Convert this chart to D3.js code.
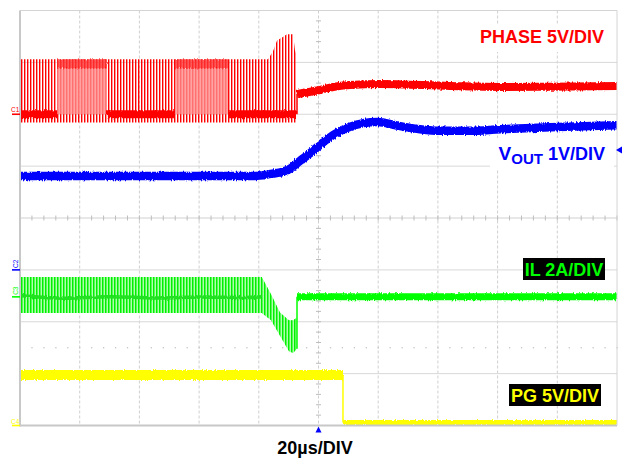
<!DOCTYPE html>
<html>
<head>
<meta charset="utf-8">
<script src="https://cdn.jsdelivr.net/npm/d3@7"></script>
<style>
  html, body { margin: 0; padding: 0; background: #fff; }
  svg { display: block; font-family: "Liberation Sans", Arial, sans-serif; }
</style>
</head>
<body>
<svg id="scope" width="622" height="459"></svg>
<script>
// ---- Scope settings ----
const timeGrid = [-100, -80, -60, -40, -20, 0, 20, 40, 60, 80, 100];   // µs, 20 µs/div
const divGrid = [-4, -3, -2, -1, 0, 1, 2, 3, 4];                        // vertical divisions
const timeBaseLabel = "20µs/DIV";

// ---- Channel 1: PHASE, 5 V/div ----
const phaseTop = [[-100, 5.3], [-16.9, 5.3], [-15.2, 6.1], [-13.9, 7.1], [-12.2, 7.4], [-10.6, 7.7], [-8.5, 7.7], [-7.9, 6.2], [-7.2, 5.6]];
const phaseUndershoot = -0.8;
const phaseDense = [[-87.6, -70.9], [-48.1, -30.3]];
const phaseDenseTop = [5.3, 4.4];
const phaseBase = [[-100, -87.6], [-70.9, -48.1], [-30.3, -7.2]];
const phaseAfter = [[-7.2, 1.95], [0.5, 2.34], [4.9, 2.63], [10.6, 2.82], [20.6, 2.92], [44.1, 2.72], [60.8, 2.63], [77.6, 2.66], [100, 2.72]];

// ---- Channel 2: VOUT, 1 V/div ----
const voutTrace = [[-100, 1.81], [-60, 1.81], [-21.3, 1.81], [-16, 1.85], [-12, 1.89], [-9.5, 1.95], [-6.2, 2.1], [-2.8, 2.25], [0.5, 2.41], [4.9, 2.6], [10.6, 2.76], [19.6, 2.85], [27.3, 2.77], [34, 2.71], [40.7, 2.68], [50.8, 2.68], [60.8, 2.71], [77.6, 2.75], [100, 2.79]];

// ---- Channel 3: IL, 2 A/div ----
// [time, ripple peak, ripple valley]
const ilRipple = [[-100, 0.77, -0.62], [-19, 0.77, -0.62], [-15.9, 0.1, -0.9], [-12.9, -0.6, -1.5], [-9.9, -0.9, -2.1], [-8.5, -0.9, -2.16], [-7.2, -0.8, -2.0]];
const ilCenter = [[-100, 0.05], [-85, -0.1], [-70, 0.05], [-55, -0.08], [-40, 0.03], [-25, -0.05], [-19, 0.0]];
const ilAfter = [[-7.2, 0], [100, 0]];

// ---- Channel 4: PG, 5 V/div ----
const pgHigh = [[-100, 4.87], [8.2, 4.87]];
const pgEdge = [[8.2, 4.87], [8.2, 0.3]];
const pgLow = [[8.2, 0.3], [100, 0.3]];

// channel offsets (div) and sensitivities (units/div)
const channels = [
  { id: "C1", offset: 2.0, perDiv: 5, color: "#ff0000" },
  { id: "C2", offset: -1.0, perDiv: 1, color: "#0000ff" },
  { id: "C3", offset: -1.52, perDiv: 2, color: "#00ff00" },
  { id: "C4", offset: -4.0, perDiv: 5, color: "#ffff00" }
];

const W = 622, H = 459;
const plot = { left: 20, right: 617, top: 10.5, bottom: 425.5 };

const svg = d3.select("#scope");
const x = d3.scaleLinear().domain([-100, 100]).range([plot.left, plot.right]);
const y = d3.scaleLinear().domain([-4, 4]).range([plot.bottom, plot.top]);
const chY = c => v => y(c.offset + v / c.perDiv);
const [c1, c2, c3, c4] = channels;
const y1 = chY(c1), y2 = chY(c2), y3 = chY(c3), y4 = chY(c4);

const defs = svg.append("defs");
// trace noise
const fz = defs.append("filter").attr("id", "fuzz")
  .attr("filterUnits", "userSpaceOnUse").attr("x", 0).attr("y", 0).attr("width", W).attr("height", H);
fz.append("feTurbulence").attr("type", "fractalNoise").attr("baseFrequency", "0.9 0.2")
  .attr("numOctaves", 2).attr("seed", 4).attr("result", "n");
fz.append("feDisplacementMap").attr("in", "SourceGraphic").attr("in2", "n")
  .attr("scale", 3.5).attr("xChannelSelector", "R").attr("yChannelSelector", "G");

// switching edges rendered as fine stripes
function stripes(id, color, w, lw, op) {
  const p = defs.append("pattern").attr("id", id).attr("patternUnits", "userSpaceOnUse")
    .attr("width", w).attr("height", 20);
  p.append("rect").attr("width", lw).attr("height", 20).attr("fill", color).attr("opacity", op);
}
stripes("swRed", "#ff0000", 3, 1.4, 1);
stripes("swGreen", "#00f000", 3, 1.5, 1);

const clip = defs.append("clipPath").attr("id", "plotClip");
clip.append("rect").attr("x", plot.left).attr("y", plot.top - 2)
  .attr("width", plot.right - plot.left).attr("height", plot.bottom - plot.top + 4);

// ---- Graticule ----
const grid = svg.append("g").attr("class", "graticule");
grid.selectAll("line.v").data(timeGrid.slice(1, -1)).join("line")
  .attr("x1", d => x(d)).attr("x2", d => x(d)).attr("y1", plot.top).attr("y2", plot.bottom)
  .attr("stroke", "#cfcfcf").attr("stroke-width", 1).attr("stroke-dasharray", "3,2");
grid.selectAll("line.h").data(divGrid.slice(1, -1)).join("line")
  .attr("x1", plot.left).attr("x2", plot.right).attr("y1", d => y(d)).attr("y2", d => y(d))
  .attr("stroke", d => d === 0 ? "#d0d0d0" : "#d8d8d8").attr("stroke-width", 1);

// minor ticks on centre axes, 5 per division
const xMinor = d3.range(-100, 100.01, 4);
const yMinor = d3.range(-4, 4.01, 0.2);
grid.selectAll("line.tx").data(xMinor).join("line")
  .attr("x1", d => x(d)).attr("x2", d => x(d)).attr("y1", y(0) - 2.5).attr("y2", y(0) + 2.5)
  .attr("stroke", "#bdbdbd").attr("stroke-width", 1);
grid.selectAll("line.ty").data(yMinor).join("line")
  .attr("x1", x(0) - 2.5).attr("x2", x(0) + 2.5).attr("y1", d => y(d)).attr("y2", d => y(d))
  .attr("stroke", "#bdbdbd").attr("stroke-width", 1);
grid.selectAll("rect.dot").data(xMinor).join("rect")
  .attr("x", d => x(d) - 0.6).attr("y", y(-2.5) - 0.6).attr("width", 1.3).attr("height", 1.3)
  .attr("fill", "#c4c4c4");

// ---- Traces ----
const traces = svg.append("g").attr("clip-path", "url(#plotClip)");
const line = yf => d3.line().x(d => x(d[0])).y(d => yf(d[1]));

// PHASE: switching burst
traces.append("path").datum(phaseTop)
  .attr("d", d3.area().x(d => x(d[0])).y0(y1(phaseUndershoot)).y1(d => y1(d[1])))
  .attr("fill", "url(#swRed)");
phaseDense.forEach(([a, b]) => {
  const seg = [[a], [b]];
  traces.append("path").datum(seg)
    .attr("d", d3.area().x(d => x(d[0])).y0(y1(0)).y1(y1(phaseDenseTop[1])))
    .attr("fill", "#ff8c8c").attr("opacity", 0.8);
  traces.append("path").datum(seg)
    .attr("d", d3.area().x(d => x(d[0])).y0(y1(phaseDenseTop[1])).y1(y1(phaseDenseTop[0])))
    .attr("fill", "#ff3030").attr("opacity", 0.8).attr("filter", "url(#fuzz)");
});
phaseBase.forEach(([a, b]) => {
  traces.append("path").datum([[a, 0], [b, 0]])
    .attr("d", line(y1)).attr("stroke", c1.color).attr("stroke-width", 8).attr("fill", "none")
    .attr("filter", "url(#fuzz)");
});
traces.append("path").datum([[phaseAfter[0][0], 0], phaseAfter[0]])
  .attr("d", line(y1)).attr("stroke", c1.color).attr("stroke-width", 1.5).attr("fill", "none");
traces.append("path").datum(phaseAfter)
  .attr("d", line(y1).curve(d3.curveMonotoneX)).attr("stroke", c1.color).attr("stroke-width", 8)
  .attr("fill", "none").attr("filter", "url(#fuzz)");

// VOUT
traces.append("path").datum(voutTrace)
  .attr("d", line(y2).curve(d3.curveMonotoneX)).attr("stroke", c2.color).attr("stroke-width", 8.5)
  .attr("fill", "none").attr("filter", "url(#fuzz)");

// IL: ripple band
const ilArea = d3.area().x(d => x(d[0])).y0(d => y3(d[2])).y1(d => y3(d[1]));
traces.append("path").datum(ilRipple).attr("d", ilArea).attr("fill", "#8cff8c").attr("opacity", 0.7);
traces.append("path").datum(ilRipple).attr("d", ilArea).attr("fill", "url(#swGreen)");
traces.append("path").datum(ilCenter)
  .attr("d", line(y3).curve(d3.curveBasis)).attr("stroke", "#20e020").attr("stroke-width", 3.5)
  .attr("fill", "none").attr("filter", "url(#fuzz)");
const ilEnd = ilRipple[ilRipple.length - 1];
traces.append("path").datum([[ilEnd[0], ilEnd[2]], ilAfter[0]])
  .attr("d", line(y3)).attr("stroke", c3.color).attr("stroke-width", 1.5).attr("fill", "none");
traces.append("path").datum(ilAfter)
  .attr("d", line(y3)).attr("stroke", c3.color).attr("stroke-width", 7)
  .attr("fill", "none").attr("filter", "url(#fuzz)");

// PG
traces.append("path").datum(pgHigh).attr("d", line(y4)).attr("stroke", c4.color)
  .attr("stroke-width", 10).attr("fill", "none").attr("filter", "url(#fuzz)");
traces.append("path").datum(pgEdge).attr("d", line(y4)).attr("stroke", c4.color)
  .attr("stroke-width", 1.5).attr("fill", "none");
traces.append("path").datum(pgLow).attr("d", line(y4)).attr("stroke", c4.color)
  .attr("stroke-width", 5).attr("fill", "none").attr("filter", "url(#fuzz)");

// ---- Frame ----
svg.append("line").attr("x1", plot.left).attr("x2", plot.right).attr("y1", plot.top).attr("y2", plot.top)
  .attr("stroke", "#d4d4d4");
svg.append("line").attr("x1", plot.right).attr("x2", plot.right).attr("y1", plot.top).attr("y2", plot.bottom)
  .attr("stroke", "#d4d4d4");
svg.append("line").attr("x1", plot.left).attr("x2", plot.left).attr("y1", plot.top).attr("y2", plot.bottom + 1)
  .attr("stroke", "#c8c8c8").attr("stroke-width", 2);
svg.append("line").attr("x1", plot.left).attr("x2", plot.right).attr("y1", plot.bottom).attr("y2", plot.bottom)
  .attr("stroke", "#c8c8c8").attr("stroke-width", 2);

// channel ground markers
channels.forEach(c => {
  const gy = chY(c)(0);
  svg.append("line").attr("x1", 12).attr("x2", 20).attr("y1", gy).attr("y2", gy)
    .attr("stroke", c.color).attr("stroke-width", 1.6);
  const t = svg.append("text").attr("fill", c.color).attr("font-size", 6.5).text(c.id);
  if (c.id === "C2" || c.id === "C3") {
    t.attr("transform", `translate(18,${gy - 2}) rotate(-90)`);
  } else {
    t.attr("x", 11).attr("y", gy - 2);
  }
});

// trigger position and level markers
svg.append("path").attr("d", `M${x(0)},${plot.bottom + 1} l3,6 h-6 z`).attr("fill", "#0000ff");
svg.append("path").attr("d", `M${plot.right - 1},${y2(2.31)} l6,-3.5 v7 z`).attr("fill", "#0000ff");

// ---- Channel labels ----
const lab = svg.append("g").attr("font-weight", "bold").attr("font-size", 18);
lab.append("rect").attr("x", 473).attr("y", 24).attr("width", 138).attr("height", 28).attr("fill", "#fff");
lab.append("text").attr("x", 604).attr("y", 43).attr("text-anchor", "end").attr("fill", c1.color)
  .text("PHASE 5V/DIV");

lab.append("rect").attr("x", 490).attr("y", 138).attr("width", 124).attr("height", 32).attr("fill", "#fff");
const vt = lab.append("text").attr("x", 605).attr("y", 160).attr("text-anchor", "end").attr("fill", c2.color);
vt.append("tspan").attr("font-size", 19).text("V");
vt.append("tspan").attr("font-size", 15).attr("dy", 4).text("OUT");
vt.append("tspan").attr("dy", -4).text(" 1V/DIV");

lab.append("rect").attr("x", 523).attr("y", 258).attr("width", 82).attr("height", 22).attr("fill", "#000");
lab.append("text").attr("x", 564).attr("y", 276).attr("text-anchor", "middle").attr("fill", c3.color)
  .text("IL 2A/DIV");

lab.append("rect").attr("x", 509).attr("y", 384).attr("width", 92).attr("height", 22).attr("fill", "#000");
lab.append("text").attr("x", 555).attr("y", 402).attr("text-anchor", "middle").attr("fill", c4.color)
  .text("PG 5V/DIV");

lab.append("text").attr("x", 315).attr("y", 454).attr("text-anchor", "middle").attr("fill", "#000")
  .text(timeBaseLabel);
</script>
</body>
</html>
